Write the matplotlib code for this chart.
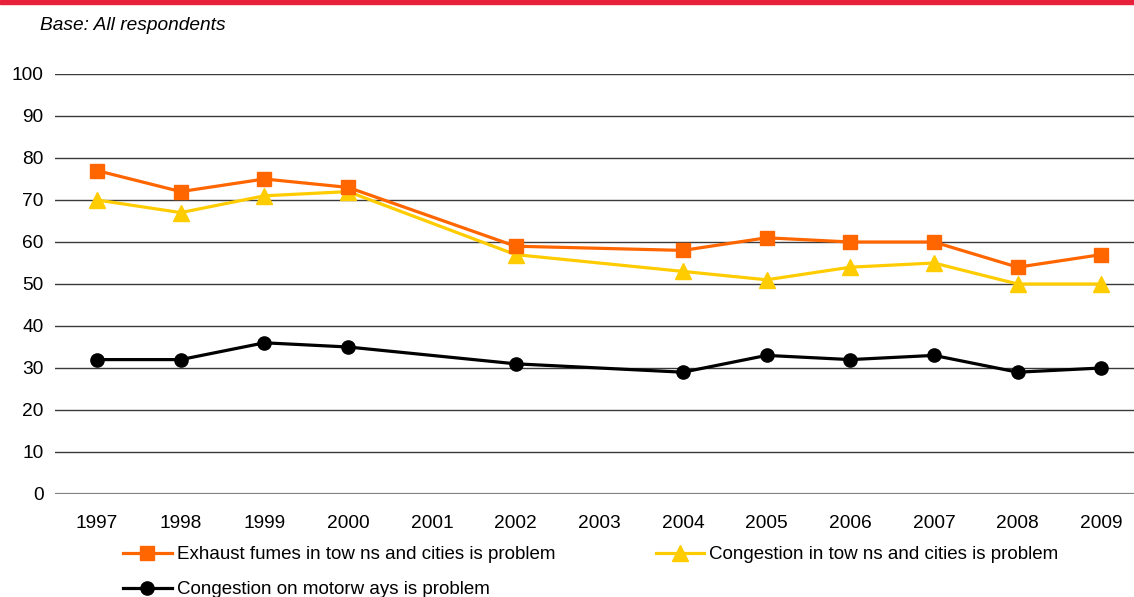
import numpy as np
import matplotlib.pyplot as plt
from matplotlib.patches import Rectangle

plt.rcParams['font.family'] = ['Liberation Sans', 'DejaVu Sans']

# survey years on the category axis (2001 and 2003 have no survey)
years = ['1997', '1998', '1999', '2000', '2001', '2002', '2003',
         '2004', '2005', '2006', '2007', '2008', '2009']
survey_years = ['1997', '1998', '1999', '2000', '2002',
                '2004', '2005', '2006', '2007', '2008', '2009']

exhaust_towns = [77, 72, 75, 73, 59, 58, 61, 60, 60, 54, 57]
congestion_towns = [70, 67, 71, 72, 57, 53, 51, 54, 55, 50, 50]
congestion_motorways = [32, 32, 36, 35, 31, 29, 33, 32, 33, 29, 30]

labels = ['Exhaust fumes in tow ns and cities is problem',
          'Congestion in tow ns and cities is problem',
          'Congestion on motorw ays is problem']

W, H = 1134, 597
fig = plt.figure(figsize=(W / 100, H / 100), dpi=100)

# red strip along the top edge
fig.patches.append(Rectangle((0, 1 - 4 / H), 1, 4 / H, transform=fig.transFigure,
                             color='#e8213a', zorder=5))
fig.text(40 / W, 1 - 25 / H, 'Base: All respondents', fontsize=13.8,
         style='italic', va='center', ha='left')

ax = fig.add_axes([55.2 / W, 103 / H, 1088 / W, 420 / H])
xpos = [years.index(y) for y in survey_years]

l1, = ax.plot(xpos, exhaust_towns, color='#ff6600', lw=2.3, marker='s',
              markersize=10, zorder=3)
l2, = ax.plot(xpos, congestion_towns, color='#ffcc00', lw=2.3, marker='^',
              markersize=11.5, zorder=2)
l3, = ax.plot(xpos, congestion_motorways, color='black', lw=2.3, marker='o',
              markersize=9.5, zorder=3)

ax.set_xlim(-0.5, len(years) - 0.5)
ax.set_ylim(0, 100)
ax.set_yticks(np.arange(0, 101, 10))
ax.set_xticks(range(len(years)))
ax.set_xticklabels(years)
ax.tick_params(length=0, labelsize=13.8)
ax.tick_params(axis='x', pad=15)
ax.tick_params(axis='y', pad=8.5)
ax.grid(axis='y', color='#3a3a3a', lw=1, zorder=0)
ax.set_axisbelow(True)
for s in ax.spines.values():
    s.set_visible(False)
ax.axhline(0, color='#808080', lw=1.6, zorder=1)

fig.legend([l1, l3, l2], [labels[0], labels[2], labels[1]], ncol=2,
           loc='upper left', bbox_to_anchor=(123 / W, 1 - 546 / H),
           frameon=False, fontsize=13.5, handlelength=2.6, handletextpad=0.27,
           columnspacing=5.35, labelspacing=0.95, borderpad=0, borderaxespad=0)

fig.savefig('out.png', dpi=100)
